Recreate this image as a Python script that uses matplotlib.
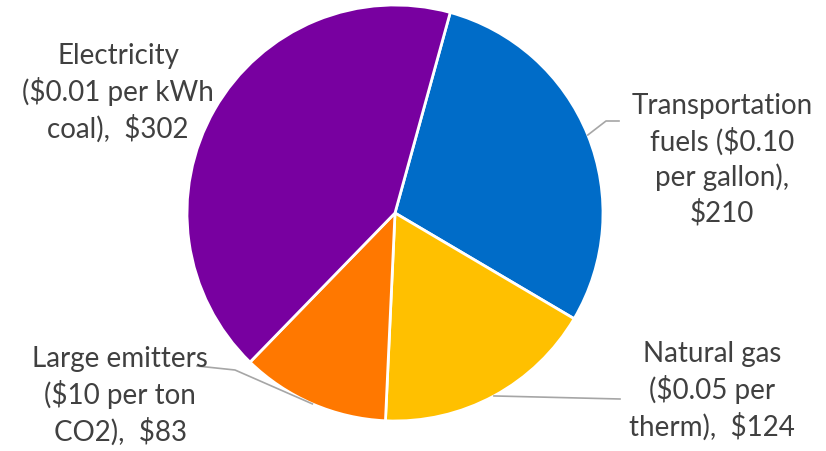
import numpy as np
import matplotlib.pyplot as plt

# slices in clockwise order starting at the top
labels = [
    "Transportation\nfuels ($0.10\nper gallon),\n$210",
    "Natural gas\n($0.05 per\ntherm),  $124",
    "Large emitters\n($10 per ton\nCO2),  $83",
    "Electricity\n($0.01 per kWh\ncoal),  $302",
]
values = [210, 124, 83, 302]
colors = ["#006CC8", "#FFC000", "#FF7800", "#7800A0"]

plt.rcParams['font.family'] = ['Lato', 'DejaVu Sans']

W, H = 826, 452
fig = plt.figure(figsize=(W / 100, H / 100), dpi=100)
ax = fig.add_axes([0, 0, 1, 1])

cx, cy, r = 395, H - 214, 208
wedges, _ = ax.pie(values, colors=colors, startangle=74.6, counterclock=False,
                   center=(cx, cy), radius=r, frame=True,
                   wedgeprops=dict(edgecolor='white', linewidth=2))
ax.set_xlim(0, W)
ax.set_ylim(0, H)
ax.set_aspect('equal')
ax.axis('off')

# label text positions and leader line elbows (pixel layout, y from top)
text_pos = [(722, 160), (712, 391), (120, 396), (118, 93)]
elbows = [[(606, 122), (619, 122)], [(620, 400)], [(235, 371), (197, 367)], None]

txt_color = "#404040"
for w, lab, (tx, ty), elb in zip(wedges, labels, text_pos, elbows):
    ax.text(tx, H - ty, lab, ha='center', va='center', fontsize=20,
            color=txt_color, linespacing=1.35)
    if elb is None:
        continue
    mid = np.deg2rad((w.theta1 + w.theta2) / 2)
    px = cx + r * np.cos(mid)
    py = cy + r * np.sin(mid)
    xs = [px] + [p[0] for p in elb]
    ys = [py] + [H - p[1] for p in elb]
    ax.plot(xs, ys, color="#A6A6A6", lw=1.2)

fig.savefig("out.png", dpi=100)
